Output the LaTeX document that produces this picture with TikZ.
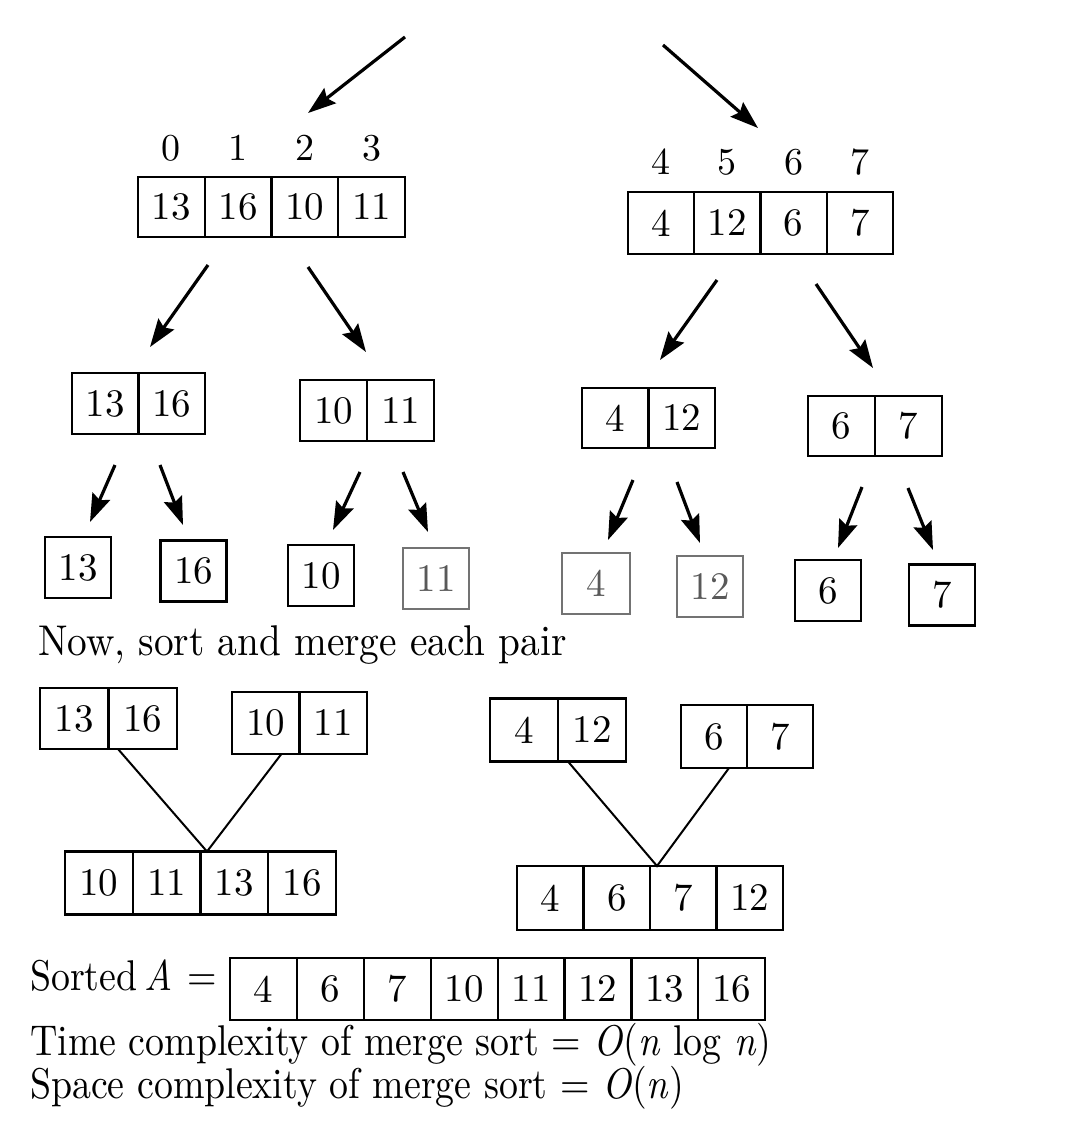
\documentclass[tikz,border=0pt]{standalone}
\usepackage{fontspec}
\setmainfont{lmroman10}[Extension=.otf, UprightFont=*-regular, ItalicFont=*-italic]
\newfontfamily\condA{lmroman10}[Extension=.otf, UprightFont=*-regular, ItalicFont=*-italic, FakeStretch=0.915]
\newfontfamily\condB{lmroman10}[Extension=.otf, UprightFont=*-regular, ItalicFont=*-italic, FakeStretch=0.88]
\usetikzlibrary{arrows.meta}
\begin{document}
\begin{tikzpicture}[x=1pt,y=-1pt,
  cellbox/.style={draw, line width=2.2pt, inner sep=0pt, font=\fontsize{39}{44}\selectfont},
  faint/.style={draw=black!55, text=black!65},
  idx/.style={inner sep=0pt, font=\fontsize{38}{44}\selectfont},
  txt/.style={inner sep=0pt, anchor=base west, font=\condB\fontsize{43}{48}\selectfont},
  arr/.style={line width=3.2pt, -{Stealth[length=28pt,width=19pt,inset=4pt]}},
  mline/.style={line width=2pt}]
\useasboundingbox (0,0) rectangle (1073,1125);
\newcommand\cellrow[7][]{%
  \foreach \v [count=\i] in {#7} {
    \node[cellbox, #1, minimum width=#5pt, minimum height=#6pt] (#2\i) at ({#3+(\i-0.5)*#5}, #4) {\v};
  }}
% level 1
\cellrow{A}{138}{207}{66.75}{60}{13,16,10,11}
\cellrow{B}{628}{223}{66.25}{62}{4,12,6,7}
\foreach \v [count=\i] in {0,1,2,3} \node[idx] (ia\i) at ({138+(\i-0.5)*66.75},148) {\v};
\foreach \v [count=\i] in {4,5,6,7} \node[idx] (ib\i) at ({628+(\i-0.5)*66.25},162) {\v};
% level 2
\cellrow{C}{72}{403.5}{66.5}{61}{13,16}
\cellrow{D}{300}{410.5}{67}{61}{10,11}
\cellrow{E}{582}{418}{66.5}{60}{4,12}
\cellrow{F}{808}{426}{67}{60}{6,7}
% level 3
\node[cellbox, minimum width=66pt, minimum height=61pt] (s13) at (78,567.5) {13};
\node[cellbox, minimum width=66pt, minimum height=61pt] (s16) at (193.5,571) {16};
\node[cellbox, minimum width=66pt, minimum height=61pt] (s10) at (321,575.5) {10};
\node[cellbox, faint, minimum width=66pt, minimum height=61pt] (s11) at (436,578.5) {11};
\node[cellbox, faint, minimum width=68pt, minimum height=61pt] (s4) at (596,583.5) {4};
\node[cellbox, faint, minimum width=66pt, minimum height=61pt] (s12) at (710,586.5) {12};
\node[cellbox, minimum width=66pt, minimum height=61pt] (s6) at (828,590.5) {6};
\node[cellbox, minimum width=66pt, minimum height=61pt] (s7) at (942,595) {7};
% arrows
\coordinate (t1s) at (405,37);  \coordinate (t1e) at (308,113);
\coordinate (t2s) at (663,45);  \coordinate (t2e) at (758,128);
\coordinate (acs) at (208,265); \coordinate (ace) at (150,347);
\coordinate (ads) at (308,267); \coordinate (ade) at (366,352);
\coordinate (bes) at (717,280); \coordinate (bee) at (660,360);
\coordinate (bfs) at (816,284); \coordinate (bfe) at (873,368);
\coordinate (c1s) at (115,465); \coordinate (c1e) at (90,522);
\coordinate (c2s) at (160,465); \coordinate (c2e) at (183,525);
\coordinate (d1s) at (360,472); \coordinate (d1e) at (333,530);
\coordinate (d2s) at (403,472); \coordinate (d2e) at (428,532);
\coordinate (e1s) at (633,480); \coordinate (e1e) at (608,540);
\coordinate (e2s) at (677,482); \coordinate (e2e) at (700,543);
\coordinate (f1s) at (862,487); \coordinate (f1e) at (838,548);
\coordinate (f2s) at (908,488); \coordinate (f2e) at (933,550);
\foreach \a in {t1,t2,ac,ad,be,bf,c1,c2,d1,d2,e1,e2,f1,f2}
  \draw[arr] (\a s) -- (\a e);
% text
\node[txt, font=\condA\fontsize{43}{48}\selectfont] (now) at (38,655) {Now, sort and merge each pair};
% merge section
\cellrow{G}{40}{718.5}{68.5}{61}{13,16}
\cellrow{H}{232}{723}{67.5}{62}{10,11}
\cellrow{I}{65}{883}{67.75}{63}{10,11,13,16}
\cellrow{J}{490}{730}{68}{63}{4,12}
\cellrow{K}{681}{736.5}{66}{63}{6,7}
\cellrow{L}{517}{898}{66.5}{64}{4,6,7,12}
\coordinate (gS) at (118,749);
\coordinate (hS) at (281,754.5);
\coordinate (iJ) at (207,851.5);
\coordinate (jS) at (568,761.5);
\coordinate (kS) at (729,768);
\coordinate (lJ) at (657,866);
\draw[mline] (gS) -- (iJ) -- (hS);
\draw[mline] (jS) -- (lJ) -- (kS);
% sorted
\cellrow{M}{230}{989}{66.9}{62}{4,6,7,10,11,12,13,16}
\node[txt] (sorted) at (30,990) {Sorted\,\textit{A}\,\,=};
\node[txt] (time) at (30,1055) {Time complexity of merge sort = \textit{O}(\textit{n} log \textit{n})};
\node[txt] (space) at (30,1098) {Space complexity of merge sort = \textit{O}(\textit{n})};
\end{tikzpicture}
\end{document}
